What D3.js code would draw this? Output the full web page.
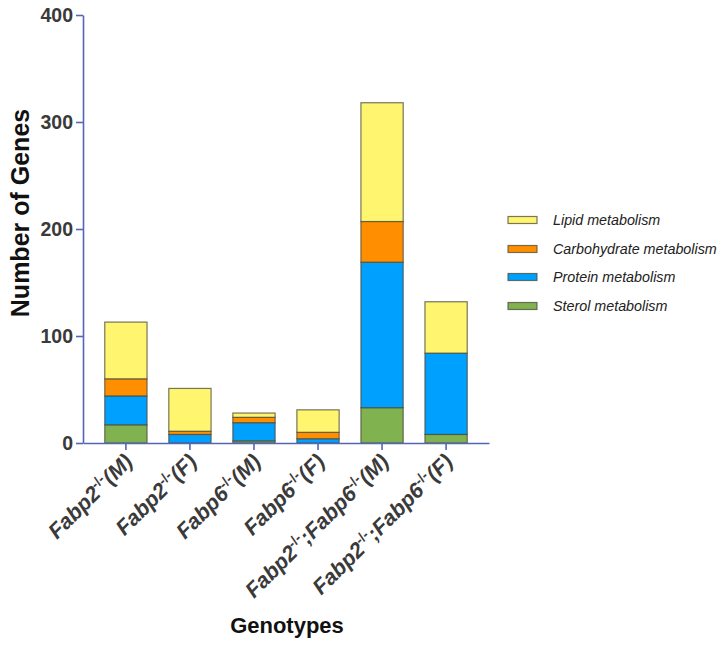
<!DOCTYPE html>
<html><head><meta charset="utf-8">
<script src="https://cdn.jsdelivr.net/npm/d3@7"></script>
<style>body{margin:0;background:#fff}svg{display:block}text{font-family:Arial,"Liberation Sans",sans-serif}</style>
</head><body><svg id="c" width="722" height="645"></svg>
<script>
const genotypes = ["Fabp2 (M)","Fabp2 (F)","Fabp6 (M)","Fabp6 (F)","DKO (M)","DKO (F)"];
const labelParts = [
  [["Fabp2",0],["-/-",1],["(M)",0]],
  [["Fabp2",0],["-/-",1],["(F)",0]],
  [["Fabp6",0],["-/-",1],["(M)",0]],
  [["Fabp6",0],["-/-",1],["(F)",0]],
  [["Fabp2",0],["-/-",1],[";Fabp6",0],["-/-",1],["(M)",0]],
  [["Fabp2",0],["-/-",1],[";Fabp6",0],["-/-",1],["(F)",0]]
];
const seriesNames = ["Sterol metabolism","Protein metabolism","Carbohydrate metabolism","Lipid metabolism"];
const sterol = [17, 0, 2, 0, 33, 8];
const protein = [27, 8, 17, 4, 136, 76];
const carbohydrate = [16, 3, 5, 6, 38, 0];
const lipid = [53, 40, 4, 21, 111, 48];
const colors = ["#80b24f","#00a0ff","#ff8f00","#fff56e"];
const yTicks = [0,100,200,300,400];

const svg = d3.select("#c");
const x = d3.scaleBand().domain(genotypes).range([83,489]).paddingInner(0.34).paddingOuter(0.34);
const y = d3.scaleLinear().domain([0,400]).range([443,15]);

const rows = genotypes.map((g,i)=>({g, "Sterol metabolism":sterol[i], "Protein metabolism":protein[i], "Carbohydrate metabolism":carbohydrate[i], "Lipid metabolism":lipid[i]}));
const stack = d3.stack().keys(seriesNames)(rows);

const gBars = svg.append("g");
stack.forEach((s,si)=>{
  gBars.selectAll(null).data(s).enter().append("rect")
    .attr("x", d=>x(d.data.g)).attr("width", x.bandwidth())
    .attr("y", d=>y(d[1])).attr("height", d=>y(d[0])-y(d[1]))
    .attr("fill", colors[si]).attr("stroke","#4a4a3a").attr("stroke-opacity",0.75).attr("stroke-width",1.2);
});

const axisColor = "#5565b8";
// y axis
const ya = svg.append("g").attr("transform","translate(83,0)")
  .call(d3.axisLeft(y).tickValues(yTicks).tickSize(7).tickSizeOuter(0).tickFormat(d3.format("d")));
ya.select(".domain").attr("stroke",axisColor).attr("stroke-width",1.6);
ya.selectAll(".tick line").attr("stroke",axisColor).attr("stroke-width",1.6);
ya.selectAll(".tick text").attr("font-size",19.5).attr("font-weight","bold").attr("fill","#3a3a3a").attr("x",-10).attr("dy","0.35em");

// x axis
const xa = svg.append("g").attr("transform","translate(0,443)")
  .call(d3.axisBottom(x).tickSize(7).tickSizeOuter(0).tickFormat(""));
xa.select(".domain").attr("stroke",axisColor).attr("stroke-width",1.6);
xa.selectAll(".tick line").attr("stroke",axisColor).attr("stroke-width",1.6);

// x labels
genotypes.forEach((g,i)=>{
  const cx = x(g)+x.bandwidth()/2;
  const t = svg.append("text").attr("transform",`translate(${cx+8},463) rotate(-45)`)
    .attr("text-anchor","end").attr("font-size",21.5).attr("font-style","italic").attr("font-weight","bold").attr("fill","#3a3a3a");
  labelParts[i].forEach(p=>{
    const ts = t.append("tspan").text(p[0]);
    if(p[1]) ts.attr("font-size",14).attr("baseline-shift","super").attr("font-style","normal");
  });
});

// axis titles
svg.append("text").attr("transform","translate(29,213) rotate(-90)").attr("text-anchor","middle")
  .attr("font-size",25).attr("font-weight","bold").attr("fill","#111").text("Number of Genes");
svg.append("text").attr("x",287).attr("y",633).attr("text-anchor","middle")
  .attr("font-size",22).attr("font-weight","bold").attr("fill","#111").text("Genotypes");

// legend
const legendOrder = ["Lipid metabolism","Carbohydrate metabolism","Protein metabolism","Sterol metabolism"];
const legendY = [220,249,277,306];
legendOrder.forEach((n,i)=>{
  const ci = seriesNames.indexOf(n);
  svg.append("rect").attr("x",508).attr("y",legendY[i]-3.5).attr("width",29).attr("height",7)
    .attr("fill",colors[ci]).attr("stroke","#4a4a3a").attr("stroke-opacity",0.75).attr("stroke-width",1.2);
  svg.append("text").attr("x",553).attr("y",legendY[i]+5).attr("font-size",14.3).attr("font-style","italic").attr("fill","#222").text(n);
});
</script></body></html>
